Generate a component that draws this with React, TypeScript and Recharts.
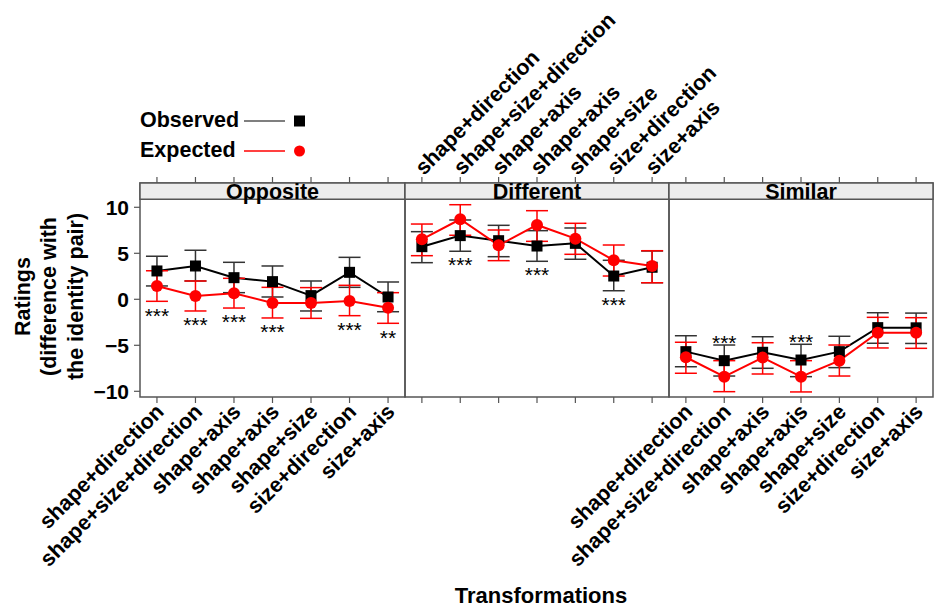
import React from 'react';
import { ComposedChart, Line, XAxis, YAxis, ErrorBar, ReferenceArea, Scatter } from 'recharts';

// ---------- data ----------
const categories = [
  'shape+direction',
  'shape+size+direction',
  'shape+axis',
  'shape+axis',
  'shape+size',
  'size+direction',
  'size+axis',
];
const categoryIndex = [1, 2, 3, 4, 5, 6, 7];
const yTicks = [-10, -5, 0, 5, 10];

// Opposite
const oppObsMean = [3.08, 3.62, 2.35, 1.92, 0.4, 2.93, 0.25];
const oppObsLow = [1.45, 1.99, 0.72, 0.25, -1.27, 1.3, -1.35];
const oppObsHigh = [4.68, 5.33, 4.02, 3.62, 1.99, 4.56, 1.88];
const oppExpMean = [1.45, 0.36, 0.65, -0.4, -0.4, -0.18, -0.91];
const oppExpLow = [-0.22, -1.27, -0.95, -2.03, -2.07, -1.78, -2.61];
const oppExpHigh = [3.1, 1.99, 2.28, 1.3, 1.27, 1.52, 0.72];
const oppSig = ['***', '***', '***', '***', '', '***', '**'];

// Different
const difObsMean = [5.72, 6.92, 6.37, 5.79, 6.08, 2.53, 3.48];
const difObsLow = [3.98, 5.22, 4.63, 4.13, 4.35, 0.93, 1.8];
const difObsHigh = [7.35, 8.62, 8.04, 7.46, 7.75, 4.24, 5.25];
const difExpMean = [6.52, 8.7, 5.87, 8.08, 6.59, 4.24, 3.62];
const difExpLow = [4.74, 6.96, 4.2, 6.3, 4.89, 2.53, 1.8];
const difExpHigh = [8.18, 10.28, 7.53, 9.63, 8.26, 5.9, 5.28];
const difSig = ['', '***', '', '***', '', '***', ''];

// Similar
const simObsMean = [-5.69, -6.67, -5.76, -6.6, -5.69, -3.08, -3.1];
const simObsLow = [-7.33, -8.34, -7.5, -8.41, -7.43, -4.78, -4.8];
const simObsHigh = [-3.96, -4.97, -4.07, -4.89, -4.02, -1.46, -1.5];
const simExpMean = [-6.3, -8.41, -6.34, -8.41, -6.67, -3.63, -3.63];
const simExpLow = [-8.04, -10.04, -8.12, -10.07, -8.34, -5.29, -5.33];
const simExpHigh = [-4.67, -6.67, -4.72, -6.67, -4.97, -1.96, -2.0];
const simSig = ['', '***', '', '***', '', '', ''];

// ---------- layout constants ----------
const FONT = "'Liberation Sans', Arial, Helvetica, sans-serif";
const YMIN = -10.62;
const YMAX = 12.64;
const STRIP_LO = 10.87;
const XMIN = 0.56;
const XMAX = 7.44;
const RED = '#FF0000';

function buildRows(
  om: number[], ol: number[], oh: number[],
  em: number[], el: number[], eh: number[],
  sig: string[], starAbove: boolean
) {
  return categoryIndex.map((idx, i) => ({
    idx,
    obs: om[i],
    obsErr: [om[i] - ol[i], oh[i] - om[i]],
    exp: em[i],
    expErr: [em[i] - el[i], eh[i] - em[i]],
    sig: sig[i],
    starY: sig[i]
      ? starAbove
        ? Math.max(oh[i], eh[i]) + 0.75
        : Math.min(ol[i], el[i]) - 1.0
      : null,
  }));
}

const oppRows = buildRows(oppObsMean, oppObsLow, oppObsHigh, oppExpMean, oppExpLow, oppExpHigh, oppSig, false);
const difRows = buildRows(difObsMean, difObsLow, difObsHigh, difExpMean, difExpLow, difExpHigh, difSig, false);
const simRows = buildRows(simObsMean, simObsLow, simObsHigh, simExpMean, simExpLow, simExpHigh, simSig, true);

const LABEL_SIZE = 21.5;

const BottomTick = (props: any) => {
  const { x, y, payload } = props;
  const ax = x + 8;
  const ay = y + 8;
  return (
    <text
      x={ax}
      y={ay}
      transform={`rotate(-45 ${ax} ${ay})`}
      textAnchor="end"
      fontSize={LABEL_SIZE}
      fontWeight="bold"
      fill="#000"
      fontFamily={FONT}
    >
      {categories[payload.value - 1]}
    </text>
  );
};

const TopTick = (props: any) => {
  const { x, y, payload } = props;
  const ax = x + 2;
  const ay = y + 1;
  return (
    <text
      x={ax}
      y={ay}
      transform={`rotate(-45 ${ax} ${ay})`}
      textAnchor="start"
      fontSize={LABEL_SIZE}
      fontWeight="bold"
      fill="#000"
      fontFamily={FONT}
    >
      {categories[payload.value - 1]}
    </text>
  );
};

const EmptyTick = () => <g />;

const SquareDot = (p: any) => {
  if (p.cx == null || p.cy == null) return <g key={`sq-${p.index}`} />;
  return <rect key={`sq-${p.index}`} x={p.cx - 5.5} y={p.cy - 5.5} width={11} height={11} fill="#000" />;
};

const StarShape = (p: any) => {
  const s = p.payload && p.payload.sig;
  if (!s || p.cx == null || p.cy == null) return <g />;
  return (
    <text x={p.cx} y={p.cy} dy={12} textAnchor="middle" fontSize={21} fill="#000" fontFamily={FONT}>
      {s}
    </text>
  );
};

const fmtY = (v: number) => (v < 0 ? '\u2212' + Math.abs(v) : String(v));

type PanelProps = {
  title: string;
  rows: any[];
  left: number;
  width: number;
  marginLeft: number;
  marginRight: number;
  showY: boolean;
  bottomLabels: boolean;
  topLabels: boolean;
};

function Panel({ title, rows, left, width, marginLeft, marginRight, showY, bottomLabels, topLabels }: PanelProps) {
  return (
    <div style={{ position: 'absolute', left, top: 0 }}>
      <ComposedChart
        width={width}
        height={608}
        data={rows}
        margin={{ top: 0, right: marginRight, bottom: 0, left: marginLeft }}
      >
        <XAxis
          dataKey="idx"
          type="number"
          domain={[XMIN, XMAX]}
          ticks={categoryIndex}
          allowDataOverflow
          height={211}
          axisLine={false}
          tickLine={{ stroke: '#555', strokeWidth: 1.2 }}
          tickSize={6}
          tick={bottomLabels ? BottomTick : EmptyTick}
          interval={0}
        />
        <XAxis
          xAxisId="top"
          orientation="top"
          dataKey="idx"
          type="number"
          domain={[XMIN, XMAX]}
          ticks={categoryIndex}
          allowDataOverflow
          height={183}
          axisLine={false}
          tickLine={{ stroke: '#555', strokeWidth: 1.2 }}
          tickSize={6}
          tick={topLabels ? TopTick : EmptyTick}
          interval={0}
        />
        {showY ? (
          <YAxis
            type="number"
            domain={[YMIN, YMAX]}
            ticks={yTicks}
            allowDataOverflow
            width={140}
            axisLine={false}
            tickLine={{ stroke: '#555', strokeWidth: 1.2 }}
            tickSize={6}
            tickMargin={5}
            tickFormatter={fmtY}
            tick={{ fontSize: 21, fontWeight: 'bold', fill: '#000', fontFamily: FONT }}
            interval={0}
          />
        ) : (
          <YAxis type="number" domain={[YMIN, YMAX]} allowDataOverflow hide />
        )}
        <ReferenceArea
          x1={XMIN}
          x2={XMAX}
          y1={YMIN}
          y2={YMAX}
          fill="#fff"
          fillOpacity={0}
          stroke="#555"
          strokeWidth={1.5}
          ifOverflow="visible"
        />
        <ReferenceArea
          x1={XMIN}
          x2={XMAX}
          y1={STRIP_LO}
          y2={YMAX}
          fill="#ececec"
          fillOpacity={1}
          stroke="#555"
          strokeWidth={1.5}
          ifOverflow="visible"
          label={{ value: title, position: 'center', fontSize: 21.5, fontWeight: 'bold', fill: '#000', fontFamily: FONT }}
        />
        <Line
          dataKey="obs"
          stroke="#000"
          strokeWidth={2}
          dot={SquareDot}
          activeDot={false}
          isAnimationActive={false}
        >
          <ErrorBar dataKey="obsErr" width={11} stroke="#333" strokeWidth={1.5} direction="y" />
        </Line>
        <Line
          dataKey="exp"
          stroke={RED}
          strokeWidth={2}
          dot={{ r: 6, fill: RED, stroke: RED, strokeWidth: 0 }}
          activeDot={false}
          isAnimationActive={false}
        >
          <ErrorBar dataKey="expErr" width={11} stroke={RED} strokeWidth={1.5} direction="y" />
        </Line>
        <Scatter dataKey="starY" shape={StarShape} isAnimationActive={false} />
      </ComposedChart>
    </div>
  );
}

export default function App() {
  return (
    <div
      style={{
        position: 'absolute',
        left: 0,
        top: 0,
        width: 934,
        height: 608,
        background: '#fff',
        fontFamily: FONT,
        overflow: 'hidden',
      }}
    >
      <Panel title="Opposite" rows={oppRows} left={0} width={420} marginLeft={0} marginRight={15} showY bottomLabels topLabels={false} />
      <Panel title="Different" rows={difRows} left={390} width={350} marginLeft={15} marginRight={71} showY={false} bottomLabels={false} topLabels />
      <Panel title="Similar" rows={simRows} left={560} width={374} marginLeft={109} marginRight={1} showY={false} bottomLabels topLabels={false} />
      <svg width={934} height={608} style={{ position: 'absolute', left: 0, top: 0, pointerEvents: 'none' }}>
        {/* legend */}
        <text x={140} y={127} fontSize={21.5} fontWeight="bold" fill="#000" fontFamily={FONT}>Observed</text>
        <line x1={244} x2={285} y1={121} y2={121} stroke="#000" strokeWidth={1.2} />
        <rect x={294} y={115.5} width={11} height={11} fill="#000" />
        <text x={140} y={157} fontSize={21.5} fontWeight="bold" fill="#000" fontFamily={FONT}>Expected</text>
        <line x1={244} x2={285} y1={151} y2={151} stroke={RED} strokeWidth={1.5} />
        <circle cx={299.5} cy={151} r={5.5} fill={RED} />
        {/* y title */}
        <g fontSize={21.5} fontWeight="bold" fill="#000" fontFamily={FONT} textAnchor="middle">
          <text transform="translate(29.5,296.5) rotate(-90)">Ratings</text>
          <text transform="translate(56,296.5) rotate(-90)">(difference with</text>
          <text transform="translate(83,296.5) rotate(-90)">the identity pair)</text>
        </g>
        {/* x title */}
        <text x={541} y={603} fontSize={22} fontWeight="bold" fill="#000" fontFamily={FONT} textAnchor="middle">
          Transformations
        </text>
      </svg>
    </div>
  );
}
